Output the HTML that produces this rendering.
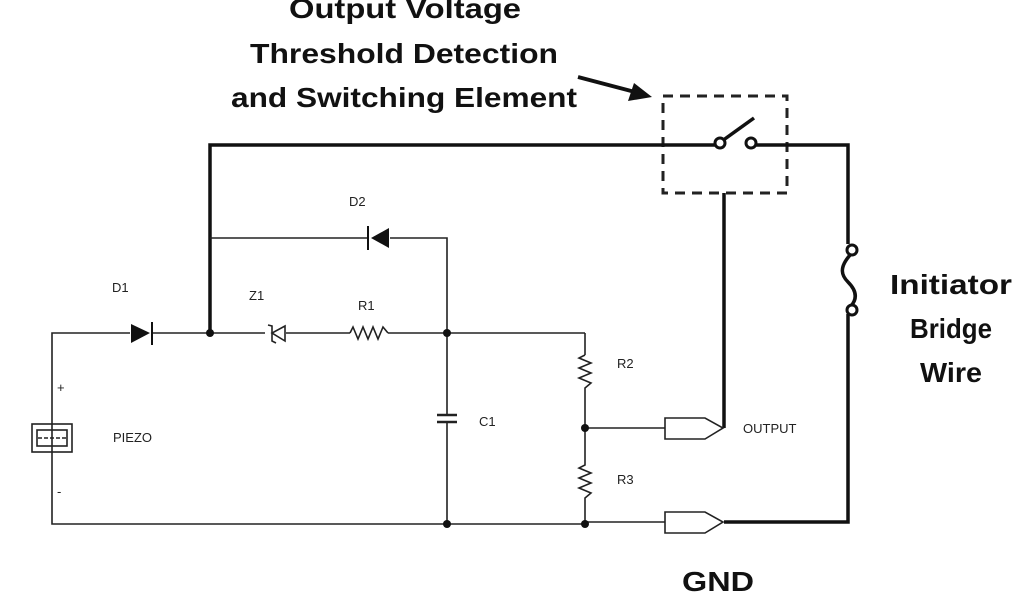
<!DOCTYPE html>
<html><head><meta charset="utf-8"><style>html,body{margin:0;padding:0;background:#fff}svg{display:block}</style></head>
<body>
<svg width="1024" height="600" viewBox="0 0 1024 600" xmlns="http://www.w3.org/2000/svg" font-family="Liberation Sans, Arial, sans-serif">
<rect width="1024" height="600" fill="#fff"/>
<g font-weight="bold" font-size="28" fill="#111" text-anchor="middle">
<text x="405" y="18" textLength="232" lengthAdjust="spacingAndGlyphs">Output Voltage</text>
<text x="404" y="63" textLength="308" lengthAdjust="spacingAndGlyphs">Threshold Detection</text>
<text x="404" y="107" textLength="346" lengthAdjust="spacingAndGlyphs">and Switching Element</text>
<text x="951" y="294" textLength="122" lengthAdjust="spacingAndGlyphs">Initiator</text>
<text x="951" y="338" textLength="82" lengthAdjust="spacingAndGlyphs">Bridge</text>
<text x="951" y="382" textLength="62" lengthAdjust="spacingAndGlyphs">Wire</text>
<text x="718" y="591" textLength="72" lengthAdjust="spacingAndGlyphs">GND</text>
</g>
<line x1="578" y1="77" x2="635" y2="92" stroke="#111" stroke-width="4"/>
<polygon points="652,97 628,101 634,83" fill="#111"/>
<rect x="663" y="96" width="124" height="97" fill="none" stroke="#222" stroke-width="3" stroke-dasharray="10,7"/>
<g stroke="#111" stroke-width="3.5" fill="none">
<polyline points="210,333 210,145 715,145"/>
<polyline points="756,145 848,145 848,244"/>
<polyline points="848,314 848,522 724,522"/>
<polyline points="724,193 724,428"/>
<line x1="722" y1="141" x2="754" y2="118"/>
<path d="M851,254 C838,268 842,276 848,282 C856,290 858,298 851,306"/>
</g>
<circle cx="720" cy="143" r="5" fill="#fff" stroke="#111" stroke-width="3"/>
<circle cx="751" cy="143" r="5" fill="#fff" stroke="#111" stroke-width="3"/>
<circle cx="852" cy="250" r="5" fill="#fff" stroke="#111" stroke-width="3"/>
<circle cx="852" cy="310" r="5" fill="#fff" stroke="#111" stroke-width="3"/>
<g stroke="#222" stroke-width="1.6" fill="none">
<polyline points="130,333 52,333 52,524 585,524"/>
<line x1="585" y1="522" x2="665" y2="522"/>
<line x1="153" y1="333" x2="265" y2="333"/>
<line x1="286" y1="333" x2="350" y2="333"/>
<line x1="388" y1="333" x2="585" y2="333"/>
<polyline points="210,238 368,238"/>
<polyline points="390,238 447,238 447,415"/>
<line x1="447" y1="422" x2="447" y2="524"/>
<polyline points="585,333 585,355"/>
<polyline points="585,355 579,358 591,363 579,368 591,373 579,378 591,383 585,388 585,465 579,468 591,473 579,478 591,483 579,488 591,493 585,498 585,524"/>
<line x1="585" y1="428" x2="665" y2="428"/>
<polygon points="665,418 705,418 723,428 705,439 665,439"/>
<polygon points="665,512 705,512 723,522 705,533 665,533"/>
<polyline points="350,333 353,327 358,339 363,327 368,339 373,327 378,339 383,327 388,333"/>
<line x1="437" y1="415" x2="457" y2="415" stroke-width="2.5"/>
<line x1="437" y1="422" x2="457" y2="422" stroke-width="2.5"/>
<rect x="32" y="424" width="40" height="28"/>
<rect x="37" y="430" width="30" height="16"/>
<line x1="38" y1="438" x2="66" y2="438" stroke-dasharray="4,2"/>
<polygon points="285,326 285,341 272,333"/>
<polyline points="268,325 272,326 272,341 276,343"/>
</g>
<polygon points="131,324 131,343 150,333" fill="#111"/>
<line x1="152" y1="322" x2="152" y2="345" stroke="#111" stroke-width="2"/>
<polygon points="389,228 389,248 371,238" fill="#111"/>
<line x1="368" y1="226" x2="368" y2="250" stroke="#111" stroke-width="2"/>
<g fill="#111">
<circle cx="210" cy="333" r="4"/><circle cx="447" cy="333" r="4"/>
<circle cx="447" cy="524" r="4"/><circle cx="585" cy="428" r="4"/><circle cx="585" cy="524" r="4"/>
</g>
<g font-size="13" fill="#222">
<text x="112" y="292">D1</text>
<text x="349" y="206">D2</text>
<text x="249" y="300">Z1</text>
<text x="358" y="310">R1</text>
<text x="617" y="368">R2</text>
<text x="617" y="484">R3</text>
<text x="479" y="426">C1</text>
<text x="113" y="442">PIEZO</text>
<text x="743" y="433">OUTPUT</text>
<text x="57" y="392">+</text>
<text x="57" y="496">-</text>
</g>
</svg>
</body></html>
